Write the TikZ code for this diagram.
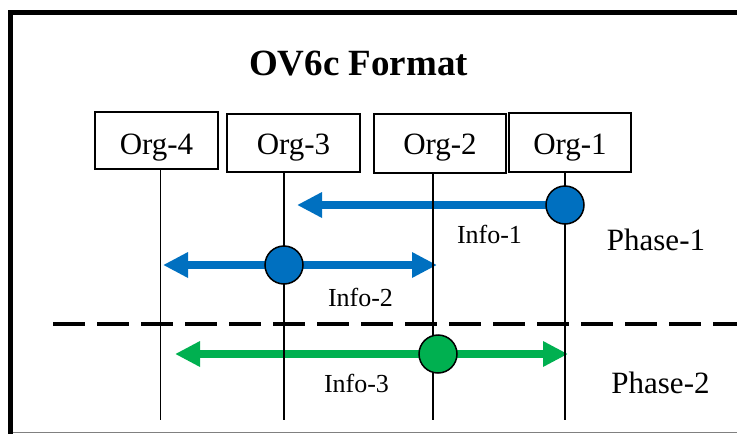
\documentclass[tikz,border=0pt]{standalone}
\usepackage{fontspec}
\setmainfont{Liberation Serif}
\usetikzlibrary{arrows.meta,backgrounds}
\definecolor{msgblue}{HTML}{0070C0}
\definecolor{msggreen}{HTML}{00B050}

\begin{document}
\begin{tikzpicture}[x=1pt,y=-1pt,
  orgbox/.style={draw=black, line width=1.6pt, inner sep=0pt, text depth=0pt,
    font=\fontsize{31}{36}\selectfont},
  lifeline/.style={line width=1.5pt, black},
  msg/.style={line width=8pt, -{Triangle[length=25pt,width=24pt]}},
  dot/.style={circle, draw=black, line width=1.5pt, minimum size=38pt, inner sep=0pt},
  infolbl/.style={anchor=base, font=\fontsize{26}{30}\selectfont},
  phaselbl/.style={anchor=base, font=\fontsize{31}{36}\selectfont},
  phasesep/.style={line width=4pt, dash pattern=on 32pt off 12pt}
]
\useasboundingbox (0,0) rectangle (737,434);

% frame
\draw[line width=5pt] (10.5,434) -- (10.5,12.5) -- (737,12.5);
\draw[gray, line width=1.5pt] (13,432.5) -- (737,432.5);

% title
\node[anchor=base, font=\bfseries\fontsize{37}{44}\selectfont] (title) at (358.5,75) {OV6c Format};

% organisations
\node[orgbox, minimum width=123pt, minimum height=57pt, text height=27pt] (o4) at (156.5,140.5) {Org-4};
\node[orgbox, minimum width=133pt, minimum height=58pt, text height=22pt] (o3) at (293.5,143) {Org-3};
\node[orgbox, minimum width=132pt, minimum height=59pt, text height=21pt] (o2) at (440,143.5) {Org-2};
\node[orgbox, minimum width=122pt, minimum height=59pt, text height=23pt] (o1) at (570,142.5) {Org-1};

% lifeline ends
\coordinate (l4) at (160.5,420);
\coordinate (l3) at (284,420);
\coordinate (l2) at (433,420);
\coordinate (l1) at (565,420);

% message tips
\coordinate (t1) at (297,205);
\coordinate (t2a) at (163,265);
\coordinate (t2b) at (437,265);
\coordinate (t3a) at (175,354);
\coordinate (t3b) at (568,354);

% phase separator
\coordinate (s1) at (53.3,324);
\coordinate (s2) at (737,324);
\draw[phasesep] (s1) -- (s2);

% senders
\node[dot, fill=msgblue]  (c1) at (565,205) {};
\node[dot, fill=msgblue]  (c2) at (284,265) {};
\node[dot, fill=msggreen] (c3) at (438,354) {};

\begin{pgfonlayer}{background}
  % messages
  \draw[msg, msgblue] (c1.center) -- (t1);
  \draw[msg, msgblue] (c2.center) -- (t2a);
  \draw[msg, msgblue] (c2.center) -- (t2b);
  \draw[msg, msggreen] (c3.center) -- (t3a);
  \draw[msg, msggreen] (c3.center) -- (t3b);
  % lifelines
  \draw[lifeline] (o4.south -| l4) -- (l4);
  \draw[lifeline] (o3.south -| l3) -- (l3);
  \draw[lifeline] (o2.south -| l2) -- (l2);
  \draw[lifeline] (o1.south -| l1) -- (l1);
\end{pgfonlayer}

% labels
\node[infolbl] (i1) at (489.5,243) {Info-1};
\node[infolbl] (i2) at (360.5,306) {Info-2};
\node[infolbl] (i3) at (356.5,392) {Info-3};
\node[phaselbl] (p1) at (656,250) {Phase-1};
\node[phaselbl] (p2) at (660.5,393) {Phase-2};
\end{tikzpicture}
\end{document}
